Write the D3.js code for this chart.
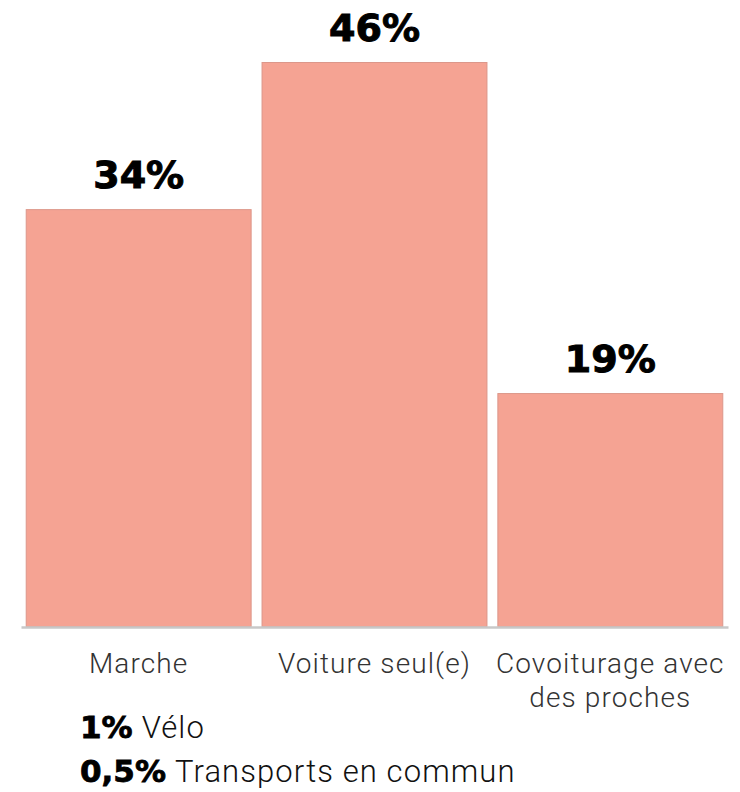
<!DOCTYPE html>
<html>
<head>
<meta charset="utf-8">
<script src="https://cdn.jsdelivr.net/npm/d3@7"></script>
<style>
  html, body { margin: 0; padding: 0; background: #fff; }
  svg { display: block; }
</style>
</head>
<body>
<svg id="chart" width="740" height="792"></svg>
<script>
const categories = ["Marche", "Voiture seul(e)", "Covoiturage avec\ndes proches"];
const values = [34, 46, 19];
const valueLabels = ["34%", "46%", "19%"];
const footnoteValues = ["1%", "0,5%"];
const footnoteLabels = ["Vélo", "Transports en commun"];

const svg = d3.select("#chart");
const baseline = 626;

const x = d3.scaleBand()
  .domain(categories)
  .range([21, 728])
  .paddingInner(0.042)
  .paddingOuter(0.02);

const y = d3.scaleLinear()
  .domain([0, d3.max(values)])
  .range([baseline, 62]);

const data = categories.map((c, i) => ({ c, v: values[i], label: valueLabels[i] }));

svg.selectAll("rect.bar")
  .data(data)
  .join("rect")
  .attr("class", "bar")
  .attr("x", d => x(d.c) + 0.5)
  .attr("y", d => y(d.v) + 0.5)
  .attr("width", x.bandwidth() - 1)
  .attr("height", d => baseline - y(d.v))
  .attr("fill", "#f5a393")
  .attr("stroke", "#dc978a")
  .attr("stroke-width", 1);

// axis baseline
const axis = d3.axisBottom(x).tickSize(0).tickFormat("");
const axisG = svg.append("g")
  .attr("transform", `translate(0,${baseline + 1})`)
  .call(axis);
axisG.select(".domain").attr("stroke", "#c8c8c8").attr("stroke-width", 2.5);

// category labels
const catG = svg.append("g");
data.forEach(d => {
  const lines = d.c.split("\n");
  const cx = x(d.c) + x.bandwidth() / 2;
  const t = catG.append("text")
    .attr("x", cx)
    .attr("y", 673)
    .attr("text-anchor", "middle")
    .attr("font-family", "Roboto, 'Open Sans', sans-serif")
    .attr("font-weight", 300)
    .attr("font-size", 28)
    .attr("letter-spacing", 1.1)
    .attr("fill", "#333");
  lines.forEach((l, i) => {
    t.append("tspan")
      .attr("x", cx)
      .attr("dy", i === 0 ? 0 : 34)
      .text(l);
  });
});

// value labels
svg.selectAll("text.val")
  .data(data)
  .join("text")
  .attr("class", "val")
  .attr("x", d => x(d.c) + x.bandwidth() / 2)
  .attr("y", d => y(d.v) - 21)
  .attr("text-anchor", "middle")
  .attr("font-family", "'DejaVu Sans', sans-serif")
  .attr("font-weight", 700)
  .attr("font-size", 38)
  .attr("fill", "#000")
  .attr("stroke", "#000")
  .attr("stroke-width", 1)
  .text(d => d.label);

// footnotes
const foot = svg.append("g");
footnoteValues.forEach((v, i) => {
  const t = foot.append("text")
    .attr("x", 80)
    .attr("y", 738 + i * 44)
    .attr("fill", "#000");
  t.append("tspan")
    .attr("font-family", "'DejaVu Sans', sans-serif")
    .attr("font-weight", 700)
    .attr("font-size", 31)
    .attr("stroke", "#000")
    .attr("stroke-width", 0.8)
    .text(v);
  t.append("tspan")
    .attr("dx", 9)
    .attr("font-family", "Roboto, sans-serif")
    .attr("font-weight", 300)
    .attr("font-size", 31)
    .attr("letter-spacing", 1.1)
    .attr("fill", "#111")
    .text(footnoteLabels[i]);
});
</script>
</body>
</html>
